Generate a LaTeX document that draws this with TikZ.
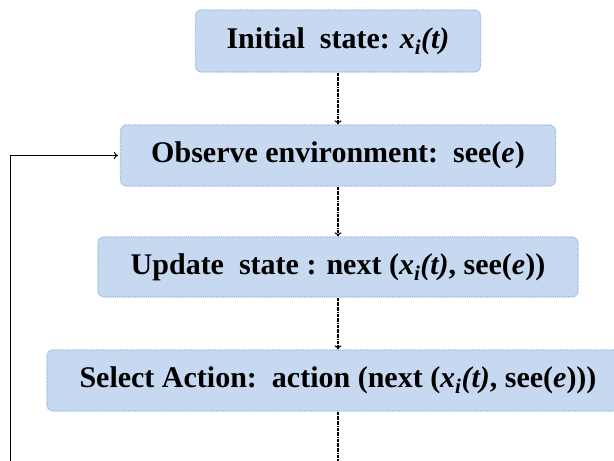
\documentclass[tikz,border=0pt]{standalone}
\usepackage{fontspec}
\setmainfont{Liberation Serif}
\usetikzlibrary{arrows.meta}
\definecolor{boxfill}{RGB}{198,217,240}
\definecolor{boxline}{RGB}{150,182,224}
\tikzset{
  flowbox/.style={draw=boxline, densely dotted, line width=1.2pt, fill=boxfill,
    rounded corners=6pt, inner sep=0pt, font=\fontsize{30}{36}\selectfont\bfseries},
  flowarrow/.style={densely dashdotted, line width=1.1pt, -{To[length=4pt,width=7pt]}},
  loopline/.style={line width=1pt, -{To[length=4pt,width=7pt]}},
}
\newcommand{\xit}{\textit{x}\textsubscript{\textit{i}}\textit{(t)}}
\begin{document}
\begin{tikzpicture}[x=1pt,y=-1pt]
\useasboundingbox (0,0) rectangle (614,461);
\clip (0,0) rectangle (614,461);
\node[flowbox, minimum width=285pt, minimum height=62pt] (b1) at (338,41) {Initial\ \ state: \xit};
\node[flowbox, minimum width=435pt, minimum height=61pt] (b2) at (338,155.5) {Observe environment:\ \ see(\textit{e})};
\node[flowbox, minimum width=480pt, minimum height=60pt] (b3) at (338,267) {Update\ \ state : next (\xit, see(\textit{e}))};
\node[flowbox, minimum width=582pt, minimum height=61pt] (b4) at (338,380.5) {Select Action:\ \ action (next (\xit, see(\textit{e})))};
\coordinate (bend) at (338,461);
\coordinate (loopstart) at (10,461);
\draw[flowarrow] (b1) -- (b2);
\draw[flowarrow] (b2) -- (b3);
\draw[flowarrow] (b3) -- (b4);
\draw[densely dashdotted, line width=1.1pt] (b4) -- (bend);
\draw[loopline] (loopstart) |- ([xshift=-2pt]b2.west);
\end{tikzpicture}
\end{document}
